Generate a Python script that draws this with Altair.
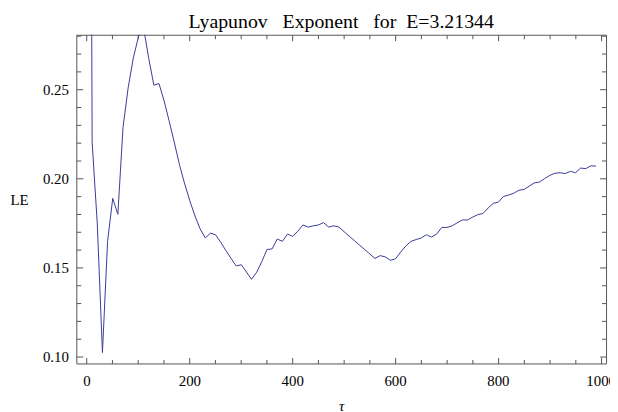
import altair as alt
import pandas as pd

# sample positions (tau) and Lyapunov exponent values
tau = [1, 11, 21, 31, 41, 51, 61, 71, 81, 91,
       101, 111, 121, 131, 141, 151, 161, 171, 181, 191,
       201, 211, 221, 231, 241, 251, 261, 271, 281, 291,
       301, 311, 321, 331, 341, 351, 361, 371, 381, 391,
       401, 411, 421, 431, 441, 451, 461, 471, 481, 491,
       501, 511, 521, 531, 541, 551, 561, 571, 581, 591,
       601, 611, 621, 631, 641, 651, 661, 671, 681, 691,
       701, 711, 721, 731, 741, 751, 761, 771, 781, 791,
       801, 811, 821, 831, 841, 851, 861, 871, 881, 891,
       901, 911, 921, 931, 941, 951, 961, 971, 981, 991]
le = [0.95, 0.2203, 0.1745, 0.1024, 0.1648, 0.1889, 0.1800, 0.2287, 0.2509, 0.2676,
      0.2795, 0.2845, 0.2675, 0.2524, 0.2533, 0.2435, 0.2320, 0.2200, 0.2075, 0.1970,
      0.1875, 0.1790, 0.1718, 0.1667, 0.1694, 0.1685, 0.1643, 0.1597, 0.1553, 0.1510,
      0.1517, 0.1476, 0.1435, 0.1475, 0.1535, 0.1602, 0.1606, 0.1661, 0.1648, 0.1689,
      0.1676, 0.1705, 0.1740, 0.1728, 0.1735, 0.1740, 0.1753, 0.1728, 0.1735, 0.1728,
      0.1702, 0.1677, 0.1652, 0.1627, 0.1602, 0.1577, 0.1552, 0.1568, 0.1561, 0.1542,
      0.1550, 0.1588, 0.1622, 0.1648, 0.1658, 0.1667, 0.1685, 0.1672, 0.1689, 0.1726,
      0.1726, 0.1735, 0.1752, 0.1768, 0.1768, 0.1784, 0.1798, 0.1804, 0.1835, 0.1861,
      0.1868, 0.1900, 0.1908, 0.1918, 0.1935, 0.1939, 0.1958, 0.1976, 0.1981, 0.2000,
      0.2018, 0.2030, 0.2033, 0.2028, 0.2041, 0.2033, 0.2059, 0.2056, 0.2072, 0.2070]

x_major = [0, 200, 400, 600, 800, 1000]
x_all = [0, 50, 100, 150, 200, 250, 300, 350, 400, 450, 500,
         550, 600, 650, 700, 750, 800, 850, 900, 950, 1000]
y_major = [0.10, 0.15, 0.20, 0.25]
y_all = [0.10, 0.11, 0.12, 0.13, 0.14, 0.15, 0.16, 0.17, 0.18, 0.19,
         0.20, 0.21, 0.22, 0.23, 0.24, 0.25, 0.26, 0.27, 0.28]

df = pd.DataFrame({"tau": tau, "LE": le})

W, H = 535, 332
FONT = "Liberation Serif"
FRAME = "#555555"
LINE = "#3b3b9a"

xs = alt.Scale(domain=[-19.8, 1010.4], nice=False, zero=False)
ys = alt.Scale(domain=[0.0963, 0.2807], nice=False, zero=False)

x_tick = {"condition": {"test": "datum.value % 200 === 0", "value": 6}, "value": 4}
y_tick = {"condition": {"test": "abs(datum.value * 20 - round(datum.value * 20)) < 0.001",
                        "value": 6.5}, "value": 4.5}

base = alt.Chart(df)

# layer 1: visible curve, labels and axis titles
main = base.mark_line(clip=True, color=LINE, strokeWidth=1).encode(
    x=alt.X("tau:Q", scale=xs, axis=alt.Axis(
        orient="bottom", values=x_major, ticks=False, tickSize=0, domain=False,
        grid=False, labelFont=FONT, labelFontSize=15, labelColor="black",
        labelPadding=10, format="d",
        title="τ", titleFont=FONT, titleFontSize=15, titleFontStyle="italic",
        titleFontWeight="normal", titleColor="black", titleY=48,
        titleBaseline="alphabetic")),
    y=alt.Y("LE:Q", scale=ys, axis=alt.Axis(
        orient="left", values=y_major, ticks=False, tickSize=0, domain=False,
        grid=False, labelFont=FONT, labelFontSize=15, labelColor="black",
        labelPadding=8, format=".2f",
        title="LE", titleFont=FONT, titleFontSize=15, titleFontWeight="normal",
        titleColor="black", titleAngle=0, titleX=-67, titleY=H / 2,
        titleAlign="left", titleBaseline="middle")),
)

# layer 2: inward ticks on bottom and left edges
ticks_a = base.mark_line(clip=True, opacity=0).encode(
    x=alt.X("tau:Q", scale=xs, title=None, axis=alt.Axis(
        orient="top", offset=-H, values=x_all, labels=False, domain=False,
        grid=False, tickColor=FRAME, tickWidth=1, tickSize=x_tick)),
    y=alt.Y("LE:Q", scale=ys, title=None, axis=alt.Axis(
        orient="right", offset=-W, values=y_all, labels=False, domain=False,
        grid=False, tickColor=FRAME, tickWidth=1, tickSize=y_tick)),
)

# layer 3: inward ticks on top and right edges
ticks_b = base.mark_line(clip=True, opacity=0).encode(
    x=alt.X("tau:Q", scale=xs, title=None, axis=alt.Axis(
        orient="bottom", offset=-H, values=x_all, labels=False, domain=False,
        grid=False, tickColor=FRAME, tickWidth=1, tickSize=x_tick)),
    y=alt.Y("LE:Q", scale=ys, title=None, axis=alt.Axis(
        orient="left", offset=-W, values=y_all, labels=False, domain=False,
        grid=False, tickColor=FRAME, tickWidth=1, tickSize=y_tick)),
)

title_text = "Lyapunov\u00a0\u00a0\u00a0Exponent\u00a0\u00a0\u00a0for\u00a0\u00a0E=3.21344"

chart = alt.layer(main, ticks_a, ticks_b).resolve_axis(
    x="independent", y="independent"
).properties(
    width=W, height=H,
    title=alt.TitleParams(title_text, font=FONT, fontSize=20, fontWeight="normal",
                          color="black", anchor="middle", frame="group",
                          baseline="alphabetic", offset=8, dy=22),
    autosize=alt.AutoSizeParams(type="none"),
    padding={"left": 69, "top": 25, "right": 4, "bottom": 47},
).configure_view(stroke=FRAME, strokeWidth=1)

chart.save("out.html", embed_options={"renderer": "svg", "actions": False})
